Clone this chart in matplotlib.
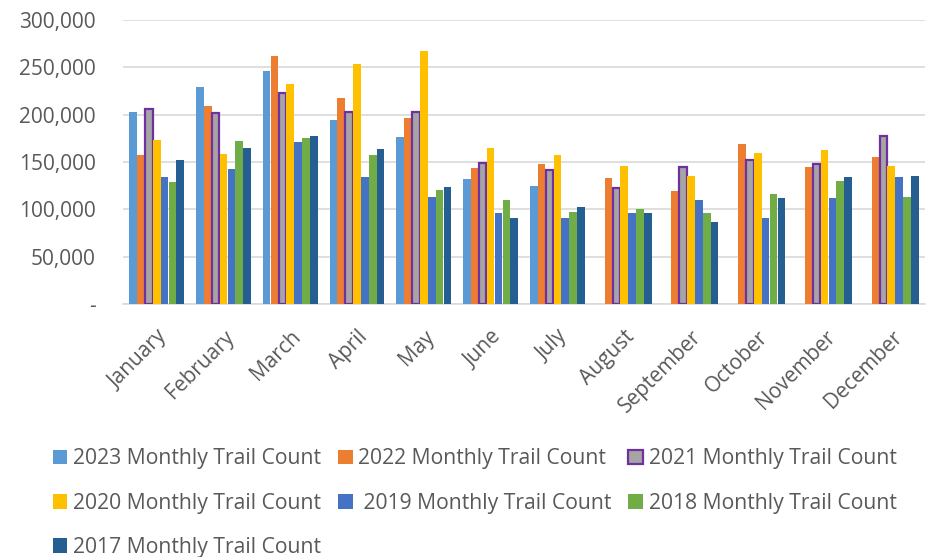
import matplotlib.pyplot as plt
import numpy as np

months = ["January", "February", "March", "April", "May", "June", "July",
          "August", "September", "October", "November", "December"]

# monthly trail counts (None = no data)
count_2023 = [203000, 229500, 246500, 194500, 176000, 131700, 124300, None, None, None, None, None]
count_2022 = [158000, 208800, 262300, 217900, 196200, 143700, 147600, 133400, 119700, 169000, 144700, 155300]
count_2021 = [205600, 201800, 222900, 202800, 203200, 148600, 141200, 122900, 145000, 152500, 147900, 177500]
count_2020 = [173000, 158800, 232400, 253500, 267600, 164500, 157700, 145800, 135600, 159200, 162400, 146100]
count_2019 = [134000, 142300, 171100, 134200, 113000, 95800, 90500, 96100, 110200, 91200, 111600, 133800]
count_2018 = [128500, 172500, 175000, 157700, 120100, 110200, 97200, 100400, 96100, 116500, 129900, 113000]
count_2017 = [151800, 164800, 177500, 163400, 123600, 90800, 102800, 95800, 86300, 111600, 134200, 134900]

series = [
    ("2023 Monthly Trail Count", count_2023, "#5B9BD5", None),
    ("2022 Monthly Trail Count", count_2022, "#ED7D31", None),
    ("2021 Monthly Trail Count", count_2021, "#A5A5A5", "#7030A0"),
    ("2020 Monthly Trail Count", count_2020, "#FFC000", None),
    (" 2019 Monthly Trail Count", count_2019, "#4472C4", None),
    ("2018 Monthly Trail Count", count_2018, "#70AD47", None),
    ("2017 Monthly Trail Count", count_2017, "#255E91", None),
]

plt.rcParams["font.family"] = ["Open Sans", "DejaVu Sans"]
text_col = "#595959"

fig = plt.figure(figsize=(9.34, 5.57), dpi=100)
ax = fig.add_axes([0.132, 0.454, 0.858, 0.51])

x = np.arange(len(months))
w = 0.118
handles = {}
for i, (name, vals, col, edge) in enumerate(series):
    v = np.array([np.nan if a is None else a for a in vals], dtype=float)
    pos = x + (i - 3) * w
    if edge:
        b = ax.bar(pos, v, width=w * 0.95, color=col, edgecolor=edge, linewidth=1.6, zorder=3, label=name)
    else:
        b = ax.bar(pos, v, width=w * 0.97, color=col, zorder=3, label=name)
    handles[i] = b

ax.set_ylim(0, 300000)
ax.set_xlim(-0.5, len(months) - 0.5)
ax.set_yticks(np.arange(0, 300001, 50000))
ax.set_yticklabels(["-"] + [f"{t:,}" for t in range(50000, 300001, 50000)])
ax.set_xticks(x)
ax.set_xticklabels(months, rotation=45, ha="right", rotation_mode="anchor")
ax.tick_params(axis="both", length=0, labelsize=15, colors=text_col)
ax.tick_params(axis="y", pad=20)
ax.tick_params(axis="x", pad=16)
ax.yaxis.grid(True, color="#D9D9D9", linewidth=1.2, zorder=0)
for s in ["top", "right", "left"]:
    ax.spines[s].set_visible(False)
ax.spines["bottom"].set_color("#D9D9D9")
ax.spines["bottom"].set_linewidth(1.2)

order = [0, 3, 6, 1, 4, 2, 5]
leg = fig.legend([handles[i] for i in order], [series[i][0] for i in order],
                 ncol=3, loc="upper left", bbox_to_anchor=(0.036, 0.229),
                 frameon=False, fontsize=15.2, handlelength=0.7, handleheight=0.7,
                 handletextpad=0.26, columnspacing=0.8, labelspacing=1.1)
for t in leg.get_texts():
    t.set_color(text_col)

fig.savefig("out.png", dpi=100)
